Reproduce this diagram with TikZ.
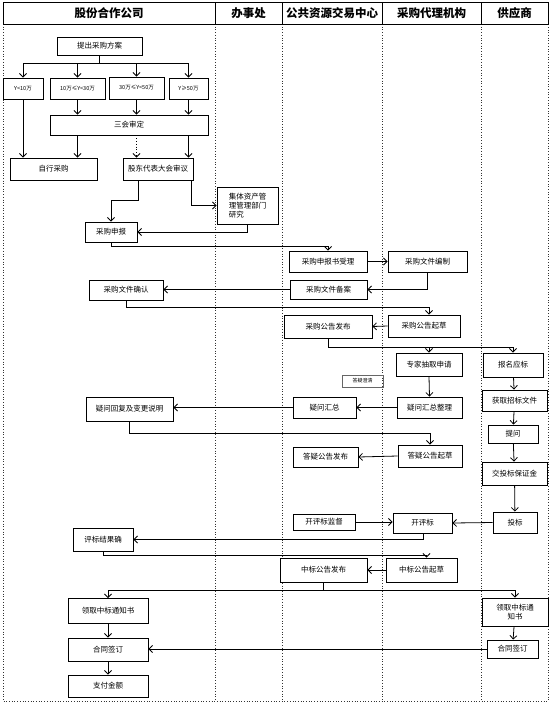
\documentclass[tikz,border=0pt]{standalone}
\usepackage{fontspec}
\setmainfont{Noto Sans CJK SC}
\usepackage{tikz}
\usetikzlibrary{arrows.meta,positioning,calc}

\begin{document}
\begin{tikzpicture}[
  x=1pt,y=-1pt,
  font=\fontsize{7.5}{9}\selectfont,
  every node/.style={align=center},
  box/.style={draw=black,line width=0.9pt,fill=white,inner sep=1pt},
  rangebox/.style={box,font=\fontsize{5.5}{6.5}\selectfont},
  note/.style={draw=black!60,line width=0.4pt,inner sep=1pt,font=\fontsize{5}{6}\selectfont},
  lane/.style={black!80,dotted,line width=0.7pt},
  head/.style={font=\fontsize{11.5}{13}\selectfont\bfseries},
  arr/.style={-{Straight Barb[length=3.5pt,width=7pt]},line width=0.8pt},
  link/.style={line width=0.8pt}
]
\useasboundingbox (0,0) rectangle (554,705);

% lanes and header
\draw[lane] (3,24) -- (3,701) -- (548,701) -- (548,24);
\foreach \x in {215,282,382,481} \draw[lane] (\x,24) -- (\x,701);
\draw[line width=0.9pt] (3,2) rectangle (548,24);
\foreach \x in {215,282,382,481} \draw[line width=0.9pt] (\x,2) -- (\x,24);
\node[head] (h1) at (109,13)   {股份合作公司};
\node[head] (h2) at (248.5,13) {办事处};
\node[head] (h3) at (332,13)   {公共资源交易中心};
\node[head] (h4) at (431.5,13) {采购代理机构};
\node[head] (h5) at (514.5,13) {供应商};

% LEFT: company
\node[box,minimum width=85pt,minimum height=18pt] (p0) at (99.5,46) {提出采购方案};
\node[rangebox,minimum width=40pt,minimum height=21pt] (r1) at (23,88.5)   {Y<10万};
\node[rangebox,minimum width=55pt,minimum height=21pt] (r2) at (77.5,88.5) {10万≤Y<30万};
\node[rangebox,minimum width=55pt,minimum height=22pt] (r3) at (136.5,88)  {30万≤Y<50万};
\node[rangebox,minimum width=39pt,minimum height=21pt] (r4) at (188.5,88.5) {Y≥50万};
\node[box,minimum width=158pt,minimum height=20pt] (sh) at (129,125) {三会审定};
\node[box,minimum width=87pt,minimum height=22pt] (zx) at (53.5,169) {自行采购};
\node[box,minimum width=70pt,minimum height=22pt] (gd) at (158,169) {股东代表大会审议};
\node[box,minimum width=61pt,minimum height=37pt,align=left] (jt) at (247.5,205.5) {集体资产管\\理管理部门\\研究};
\node[box,minimum width=52pt,minimum height=20pt] (sb) at (111,232) {采购申报};
\node[box,minimum width=74pt,minimum height=20pt] (qr) at (126,290) {采购文件确认};
\node[box,minimum width=87pt,minimum height=24pt] (yh) at (129.5,409) {疑问回复及变更说明};
\node[box,minimum width=60pt,minimum height=23pt] (pj) at (103,539.5) {评标结果确};
\node[box,minimum width=80pt,minimum height=25pt] (lq) at (108,611) {领取中标通知书};
\node[box,minimum width=80pt,minimum height=23pt] (ht) at (108,649.5) {合同签订};
\node[box,minimum width=80pt,minimum height=22pt] (zf) at (108,686) {支付金额};

% MIDDLE: trading centre
\node[box,minimum width=78pt,minimum height=21pt] (sl) at (328,261.5) {采购申报书受理};
\node[box,minimum width=77pt,minimum height=19pt] (ba) at (328.5,289.5) {采购文件备案};
\node[box,minimum width=88pt,minimum height=23pt] (fb) at (328,326.5) {采购公告发布};
\node[box,minimum width=63pt,minimum height=21pt] (wh) at (324.5,407.5) {疑问汇总};
\node[box,minimum width=65pt,minimum height=20pt] (dy) at (325.5,457) {答疑公告发布};
\node[box,minimum width=62pt,minimum height=16pt] (jd) at (324,522) {开评标监督};
\node[box,minimum width=87pt,minimum height=24pt] (zb) at (323.5,570) {中标公告发布};
\node[note,minimum width=41pt,minimum height=12pt] (yw) at (362.5,381) {答疑澄清};

% agency
\node[box,minimum width=79pt,minimum height=21pt] (bz) at (427.5,261.5) {采购文件编制};
\node[box,minimum width=72pt,minimum height=22pt] (qc) at (424,326) {采购公告起草};
\node[box,minimum width=66pt,minimum height=23pt] (zj) at (429,364.5) {专家抽取申请};
\node[box,minimum width=65pt,minimum height=21pt] (zl) at (429.5,407.5) {疑问汇总整理};
\node[box,minimum width=64pt,minimum height=22pt] (dq) at (430,456) {答疑公告起草};
\node[box,minimum width=59pt,minimum height=20pt] (kp) at (422.5,523) {开评标};
\node[box,minimum width=71pt,minimum height=24pt] (zq) at (421.5,570) {中标公告起草};

% RIGHT: supplier
\node[box,minimum width=60pt,minimum height=24pt] (bm) at (513,365) {报名应标};
\node[box,minimum width=65pt,minimum height=21pt] (hq) at (514.5,400.5) {获取招标文件};
\node[box,minimum width=50pt,minimum height=18pt] (tw) at (513,434) {提问};
\node[box,minimum width=65pt,minimum height=23pt] (bj) at (514.5,473.5) {交投标保证金};
\node[box,minimum width=44pt,minimum height=21pt] (tb) at (515,522.5) {投标};
\node[box,minimum width=66pt,minimum height=28pt] (tz) at (515,612) {领取中标通\\知书};
\node[box,minimum width=51pt,minimum height=18pt] (hs) at (512.5,649) {合同签订};

% approval
\draw[link] (p0.south) -- ++(0,8) coordinate (f1);
\foreach \n in {r1,r2,r3,r4} \draw[arr] (f1) -| (\n.north);
\foreach \n in {r2,r3,r4} \draw[arr] (\n.south) -- (\n.south |- sh.north);
\draw[arr] (r1.south) -- (r1.south |- zx.north);
\draw[arr] (sh.south -| r2) -- (r2 |- zx.north);
\draw[arr,dotted] (sh.south -| r3) -- (r3 |- gd.north);
\draw[arr] (sh.south -| r4) -- (r4 |- gd.north);
\draw[arr] ([xshift=-20pt]gd.south) -- ++(0,20) -| (sb.north);
\draw[arr] ([xshift=33pt]gd.south) |- (jt.west);
\draw[arr] (jt.south) |- (sb.east);

% documents
\draw[arr] (sb.south) -- ++(0,4) -| (sl.north);
\draw[arr] (sl.east) -- (bz.west);
\draw[arr] (bz.south) |- (ba.east);
\draw[arr] (ba.west) -- (ba.west -| qr.east);
\draw[arr] (qr.south) -- ++(0,7) -| ([xshift=5pt]qc.north);
\draw[arr] (qc.west) -- (fb.east);
\draw[link] (fb.south) -- ++(0,9) coordinate (f2);
\draw[arr] (f2) -| (zj.north);
\draw[arr] (f2) -| (bm.north);

% questions
\draw[arr] (zj.south) -- (zl.north);
\draw[arr] (zl.west) -- (wh.east);
\draw[arr] (wh.west) -- (wh.west -| yh.east);
\draw[arr] (yh.south) -- ++(0,12) -| (dq.north);
\draw[arr] (dq.west) -- (dy.east);
\draw[arr] (bm) -- (hq);
\draw[arr] (hq) -- (tw);
\draw[arr] (tw) -- (bj);
\draw[arr] (bj) -- (tb);

% bidding
\draw[arr] (tb.west) -- (kp.east);
\draw[arr] (jd.east) -- (jd.east -| kp.west);
\draw[arr] ([xshift=1pt]kp.south) |- (pj.east);
\draw[arr] (pj.south) -- ++(0,4) -| ([xshift=5pt]zq.north);
\draw[arr] (zq.west) -- (zb.east);
\draw[link] (zb.south) -- ++(0,8) coordinate (f3);
\draw[arr] (f3) -| (lq.north);
\draw[arr] (f3) -| (tz.north);
\draw[arr] (lq) -- (ht);
\draw[arr] (ht) -- (zf);
\draw[arr] (tz) -- (hs);
\draw[arr] (hs.west) -- (hs.west -| ht.east);
\end{tikzpicture}
\end{document}
